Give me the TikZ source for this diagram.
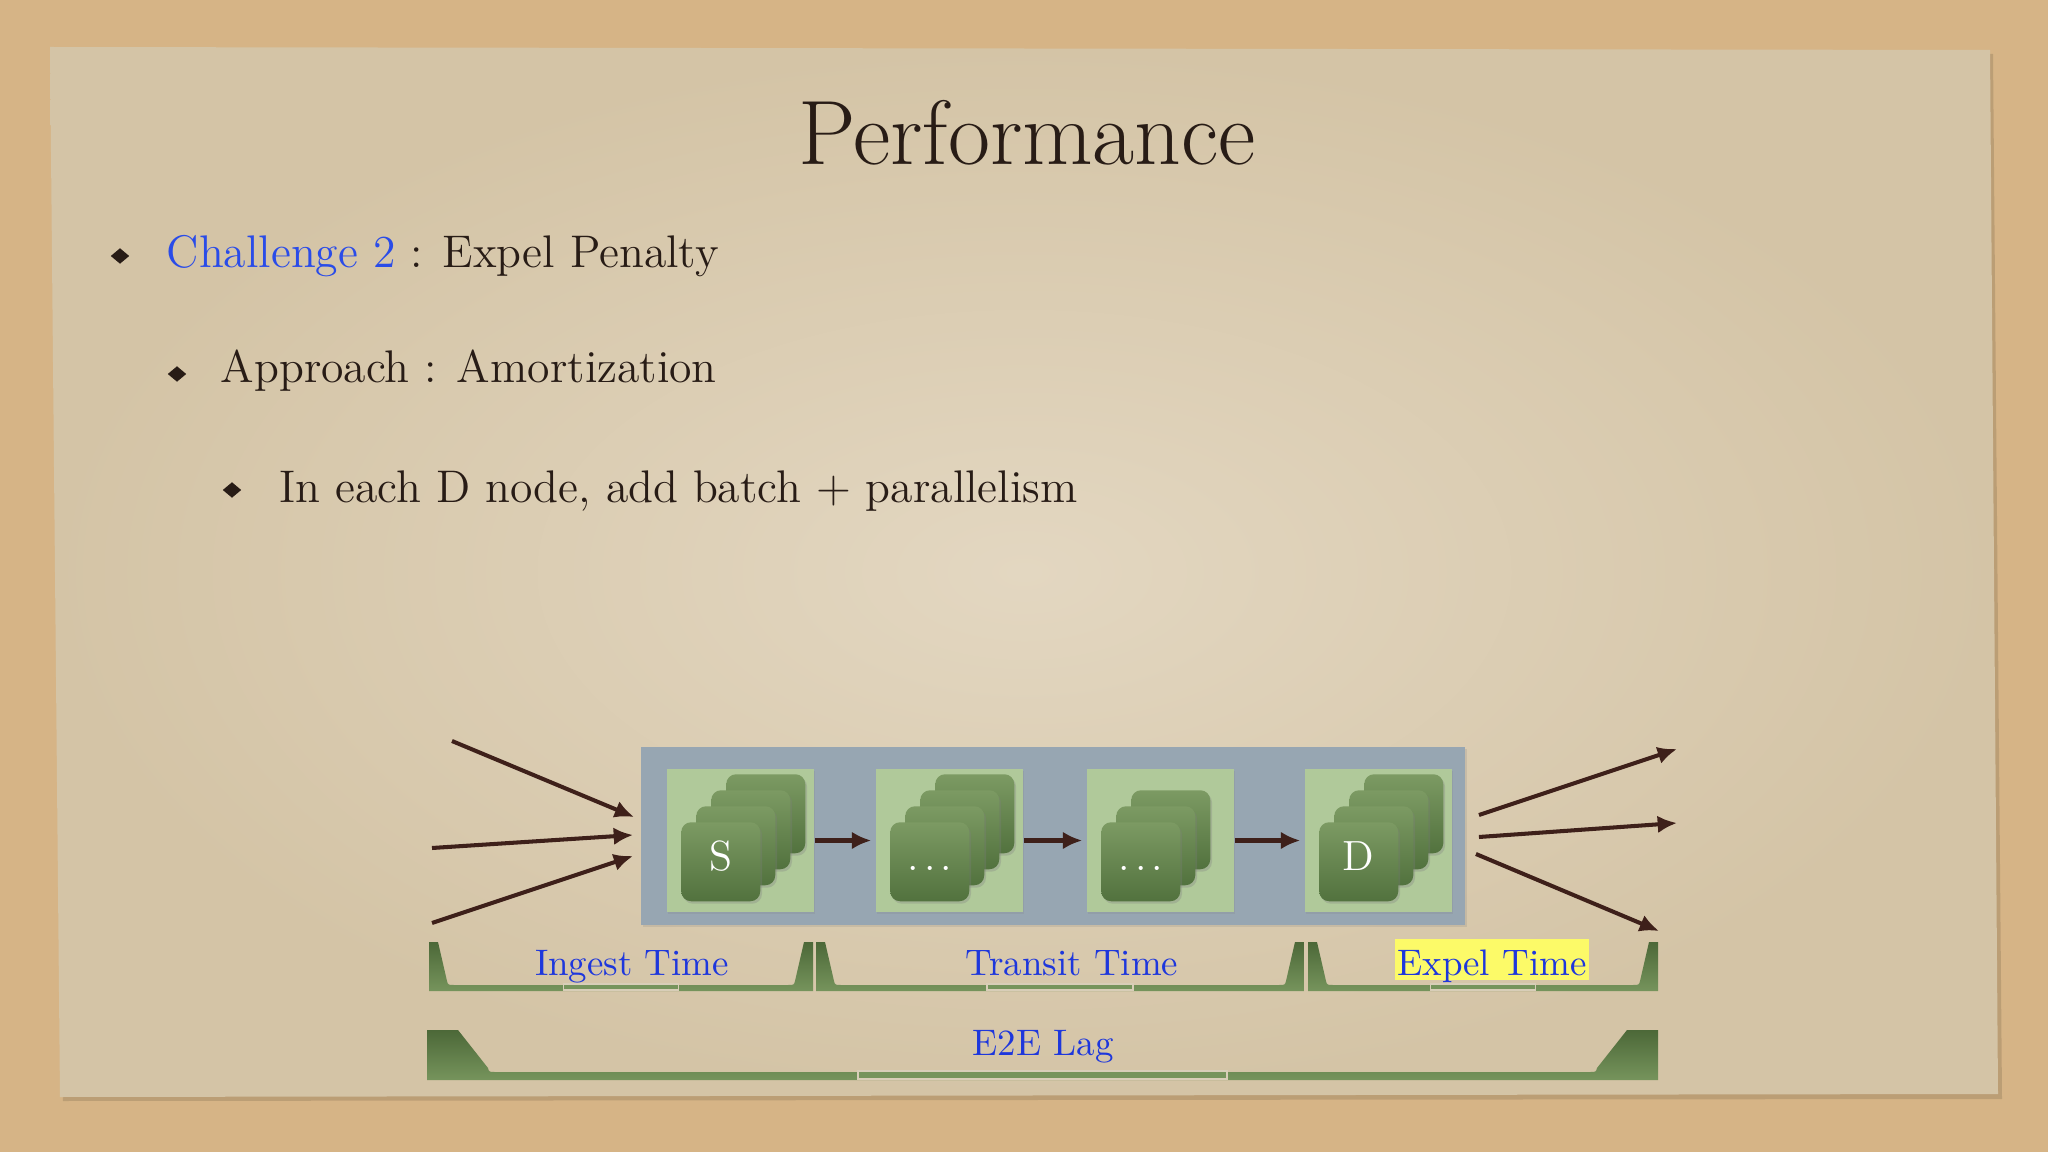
\documentclass[tikz,border=0pt]{standalone}
\usepackage{fontspec}
\usepackage{tikz}
\usetikzlibrary{calc,arrows.meta,shapes.geometric,shadows}

\definecolor{board}{RGB}{214,180,134}
\definecolor{paperin}{RGB}{227,215,193}
\definecolor{paperout}{RGB}{212,196,166}
\definecolor{ink}{RGB}{40,28,22}
\definecolor{inkblue}{RGB}{42,76,232}
\definecolor{labelblue}{RGB}{30,55,220}
\definecolor{arrowbrown}{RGB}{62,32,26}
\definecolor{pipegray}{RGB}{151,166,178}
\definecolor{stagegreen}{RGB}{176,201,154}
\definecolor{cardtop}{RGB}{124,154,99}
\definecolor{cardbot}{RGB}{82,114,62}
\definecolor{bartop}{RGB}{76,104,56}
\definecolor{barbot}{RGB}{118,148,92}
\definecolor{barnotch}{RGB}{216,206,184}
\definecolor{hilite}{RGB}{252,250,104}

% stack of cards inside a stage box: box name, list of offsets, label
\def\cardstack#1#2#3{%
  \foreach \k in {#2}
    \shade[card] ($(#1.north west)+({15+15*\k},{54-16*\k})$) rectangle ++(79,79);
  \node[cardtext] (#1-txt) at ($(#1.north west)+(54.5,102)$) {#3};
}
% span bar: left:right, top:bottom, top width:bottom width:thickness
\def\spanbar(#1:#2)(#3:#4)(#5:#6:#7){%
  \shade[spanbar] (#1,#3) -- ({#1+#5},#3) -- ({#1+#6},{#4-#7-4}) .. controls ({#1+#6+1},{#4-#7}) .. ({#1+#6+8},{#4-#7})
    -- ({#2-#6-8},{#4-#7}) .. controls ({#2-#6-1},{#4-#7}) .. ({#2-#6},{#4-#7-4}) -- ({#2-#5},#3) -- (#2,#3) -- (#2,#4) -- (#1,#4) -- cycle;
  \draw[line width=0.5pt, draw=barnotch, fill=barbot] ({0.65*#1+0.35*#2},{#4-#7-1}) rectangle ({0.35*#1+0.65*#2},{#4-1});
}
\def\stagedots{.\hspace{1.3pt}.\hspace{1.3pt}.}

\begin{document}
\begin{tikzpicture}[x=0.01cm, y=-0.01cm,
    card/.style={rounded corners=2.8pt, top color=cardtop, bottom color=cardbot,
      drop shadow={shadow xshift=0.5pt, shadow yshift=-0.7pt, opacity=0.3}},
    cardtext/.style={anchor=base, text=white, font=\fontsize{12}{14}\selectfont},
    stage/.style={fill=stagegreen, minimum width=1.47cm, minimum height=1.43cm, inner sep=0pt,
      drop shadow={shadow xshift=0.4pt, shadow yshift=-0.5pt, opacity=0.2}},
    flow/.style={line width=1.15pt, color=arrowbrown, -{Latex[length=5.5pt,width=5pt]}},
    spanbar/.style={top color=bartop, bottom color=barbot},
    bodytext/.style={anchor=base west, inner sep=0pt, text=ink, font=\fontsize{13}{15}\selectfont},
    timelabel/.style={anchor=base, inner sep=0pt, text=labelblue, font=\fontsize{10.5}{12}\selectfont},
    bullet/.style={diamond, fill=ink, inner sep=0pt, minimum width=0.19cm, minimum height=0.16cm}]
		%%%%% START %%%%%
		
		\fill[board] (0,0) rectangle (2048,1152);
		\useasboundingbox (0,0) rectangle (2048,1152);
		
		\fill[black, opacity=0.12] (53,51) -- (1993,54) -- (2002,1099) -- (63,1101) -- cycle;
		\shade[inner color=paperin, outer color=paperout] (50,47) -- (1990,50) -- (1998,1094) -- (60,1097) -- cycle;
		
		\node[anchor=base, inner sep=0pt, text=ink, font=\fontsize{26}{30}\selectfont] (title) at (1027,165) {Performance};
		
		\node[bullet] (b1) at (120,256) {};
		\node[bodytext] (l1) at (166,268) {\textcolor{inkblue}{Challenge 2} : Expel Penalty};
		\node[bullet] (b2) at (177,374) {};
		\node[bodytext] (l2) at (220,383) {Approach : Amortization};
		\node[bullet] (b3) at (232,490) {};
		\node[bodytext] (l3) at (279,502) {In each D node, add batch + parallelism};
		
		% pipeline
		\node[fill=pipegray, minimum width=8.24cm, minimum height=1.78cm, inner sep=0pt,
		  drop shadow={shadow xshift=0.5pt, shadow yshift=-0.6pt, opacity=0.2}] (pipe) at (1053,836) {};
		\node[stage] (sbox) at (740.5,840.5) {};
		\node[stage] (tbox1) at (949.5,840.5) {};
		\node[stage] (tbox2) at (1160.5,840.5) {};
		\node[stage] (dbox) at (1378.5,840.5) {};
		
		\cardstack{sbox}{3,2,1,0}{S}
		\cardstack{tbox1}{3,2,1,0}{\stagedots}
		\cardstack{tbox2}{2,1,0}{\stagedots}
		\cardstack{dbox}{3,2,1,0}{D}
		
		\draw[flow, shorten >=0.04cm] (sbox.east) -- (tbox1.west);
		\draw[flow, shorten >=0.04cm] (tbox1.east) -- (tbox2.west);
		\draw[flow, shorten >=0.04cm] (tbox2.east) -- (dbox.west);
		
		\coordinate (in1) at (452,741);
		\coordinate (in2) at (432,848);
		\coordinate (in3) at (432,923);
		\draw[flow] (in1) -- ($(pipe.west)+(-6,-19)$);
		\draw[flow] (in2) -- ($(pipe.west)+(-7,-1)$);
		\draw[flow] (in3) -- ($(pipe.west)+(-7,20)$);
		
		\coordinate (out1) at (1677,749);
		\coordinate (out2) at (1677,823);
		\coordinate (out3) at (1659,931);
		\draw[flow] ($(pipe.east)+(13,-21)$) -- (out1);
		\draw[flow] ($(pipe.east)+(13,1)$) -- (out2);
		\draw[flow] ($(pipe.east)+(10,18)$) -- (out3);
		
		% time spans
		\spanbar(429:813)(942:991)(9:18:6)
		\spanbar(816:1304)(942:991)(9:18:6)
		\spanbar(1308:1658)(942:991)(9:18:6)
		\spanbar(427:1658)(1030:1080)(31:61:8)
		
		\node[timelabel] (ingest) at (632,975) {Ingest Time};
		\node[timelabel] (transit) at (1072,975) {Transit Time};
		\node[timelabel, fill=hilite, inner xsep=0.6pt, inner ysep=0.5pt, text height=9.7pt, text depth=0.9pt] (expel) at (1492,975) {Expel Time};
		\node[timelabel] (lag) at (1043,1055) {E2E Lag};
		
		%%%%% END %%%%%
\end{tikzpicture}
\end{document}
